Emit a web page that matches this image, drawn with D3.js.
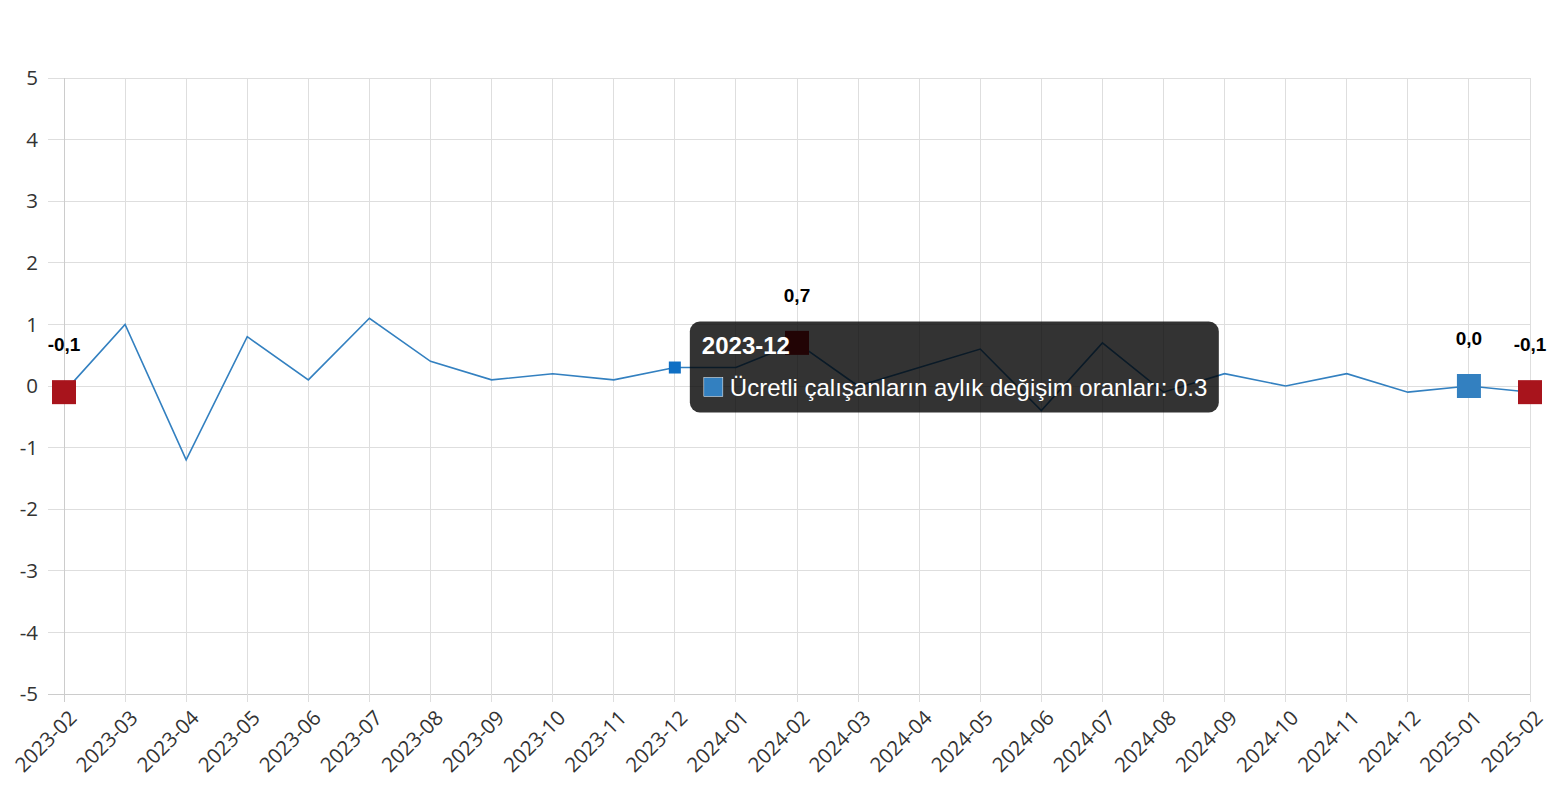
<!DOCTYPE html>
<html>
<head>
<meta charset="utf-8">
<script src="https://cdn.jsdelivr.net/npm/d3@7/dist/d3.min.js"></script>
<style>
  html, body { margin: 0; padding: 0; background: #fff; }
  svg { display: block; }
</style>
</head>
<body>
<svg id="chart" width="1556" height="800"></svg>
<script>
const categories = ["2023-02","2023-03","2023-04","2023-05","2023-06","2023-07","2023-08","2023-09","2023-10","2023-11","2023-12","2024-01","2024-02","2024-03","2024-04","2024-05","2024-06","2024-07","2024-08","2024-09","2024-10","2024-11","2024-12","2025-01","2025-02"];
const values = [-0.1, 1.0, -1.2, 0.8, 0.1, 1.1, 0.4, 0.1, 0.2, 0.1, 0.3, 0.3, 0.7, 0.0, 0.3, 0.6, -0.4, 0.7, -0.1, 0.2, 0.0, 0.2, -0.1, 0.0, -0.1];
const yTicks = [-5, -4, -3, -2, -1, 0, 1, 2, 3, 4, 5];
const seriesName = "Ücretli çalışanların aylık değişim oranları";
const markCats = ["2023-02", "2024-02", "2025-01", "2025-02"];
const markKinds = ["red", "red", "blue", "red"];
const hoverCat = "2023-12";

const colors = { line: "#3380c0", red: "#a8141c", blue: "#3380c0", hover: "#0f6fc4" };

const svg = d3.select("#chart");
const x = d3.scalePoint().domain(categories).range([64, 1530]);
const y = d3.scaleLinear().domain([-5, 5]).range([694, 78]);

// horizontal grid
svg.append("g").selectAll("line").data(yTicks).join("line")
  .attr("x1", 48).attr("x2", 1530)
  .attr("y1", d => y(d)).attr("y2", d => y(d))
  .attr("stroke", d => d === -5 ? "#ccc" : "#dedede").attr("stroke-width", 1)
  .attr("shape-rendering", "crispEdges");

// vertical grid
svg.append("g").selectAll("line").data(categories).join("line")
  .attr("x1", d => x(d)).attr("x2", d => x(d))
  .attr("y1", 78).attr("y2", 702)
  .attr("stroke", (d, i) => i === 0 ? "#ccc" : "#dedede").attr("stroke-width", 1)
  .attr("shape-rendering", "crispEdges");

// y labels
svg.append("g").selectAll("text").data(yTicks).join("text")
  .attr("x", 38).attr("y", d => y(d)).attr("dy", "0.35em")
  .attr("text-anchor", "end")
  .attr("font-family", "'Open Sans', sans-serif").attr("font-size", 20.5)
  .attr("fill", "#333").text(d => d);

// x labels
svg.append("g").selectAll("text").data(categories).join("text")
  .attr("transform", d => `translate(${x(d) + 9},${714}) rotate(-45)`)
  .attr("text-anchor", "end").attr("dy", "0.35em")
  .attr("font-family", "'Open Sans', sans-serif").attr("font-size", 20.5)
  .attr("fill", "#333").text(d => d);

// line
const line = d3.line().x((d, i) => x(categories[i])).y(d => y(d));
svg.append("path").datum(values)
  .attr("d", line).attr("fill", "none")
  .attr("stroke", colors.line).attr("stroke-width", 1.6);

// mark points
const fmt = v => v.toFixed(1).replace(".", ",");
const marks = markCats.map((c, i) => ({ c, v: values[categories.indexOf(c)], kind: markKinds[i] }));
const mg = svg.append("g");
mg.selectAll("rect").data(marks).join("rect")
  .attr("x", d => x(d.c) - 12).attr("y", d => y(d.v) - 12)
  .attr("width", 24).attr("height", 24)
  .attr("fill", d => colors[d.kind]);
mg.selectAll("text").data(marks).join("text")
  .attr("x", d => x(d.c)).attr("y", d => y(d.v) - 41)
  .attr("text-anchor", "middle")
  .attr("font-family", "'Liberation Sans', Arial, sans-serif").attr("font-weight", "bold")
  .attr("font-size", 19).attr("fill", "#000").text(d => fmt(d.v));

// hover marker
const hv = values[categories.indexOf(hoverCat)];
svg.append("rect")
  .attr("x", x(hoverCat) - 6).attr("y", y(hv) - 6)
  .attr("width", 12).attr("height", 12).attr("fill", colors.hover);

// tooltip
const tx = x(hoverCat) + 15, ty = y(hv) - 46;
const tg = svg.append("g").attr("transform", `translate(${tx},${ty})`);
tg.append("rect").attr("width", 529).attr("height", 91).attr("rx", 10)
  .attr("fill", "rgba(0,0,0,0.8)");
tg.append("text").attr("x", 12).attr("y", 32)
  .attr("font-family", "'Liberation Sans', Arial, sans-serif").attr("font-weight", "bold")
  .attr("font-size", 24).attr("fill", "#fff").text(hoverCat);
tg.append("rect").attr("x", 14).attr("y", 56).attr("width", 19).attr("height", 19)
  .attr("fill", colors.line).attr("stroke", "#fff").attr("stroke-width", 0.5);
tg.append("text").attr("x", 40).attr("y", 74)
  .attr("font-family", "'Liberation Sans', Arial, sans-serif")
  .attr("font-size", 24).attr("fill", "#fff").text(`${seriesName}: ${hv}`);
</script>
</body>
</html>
